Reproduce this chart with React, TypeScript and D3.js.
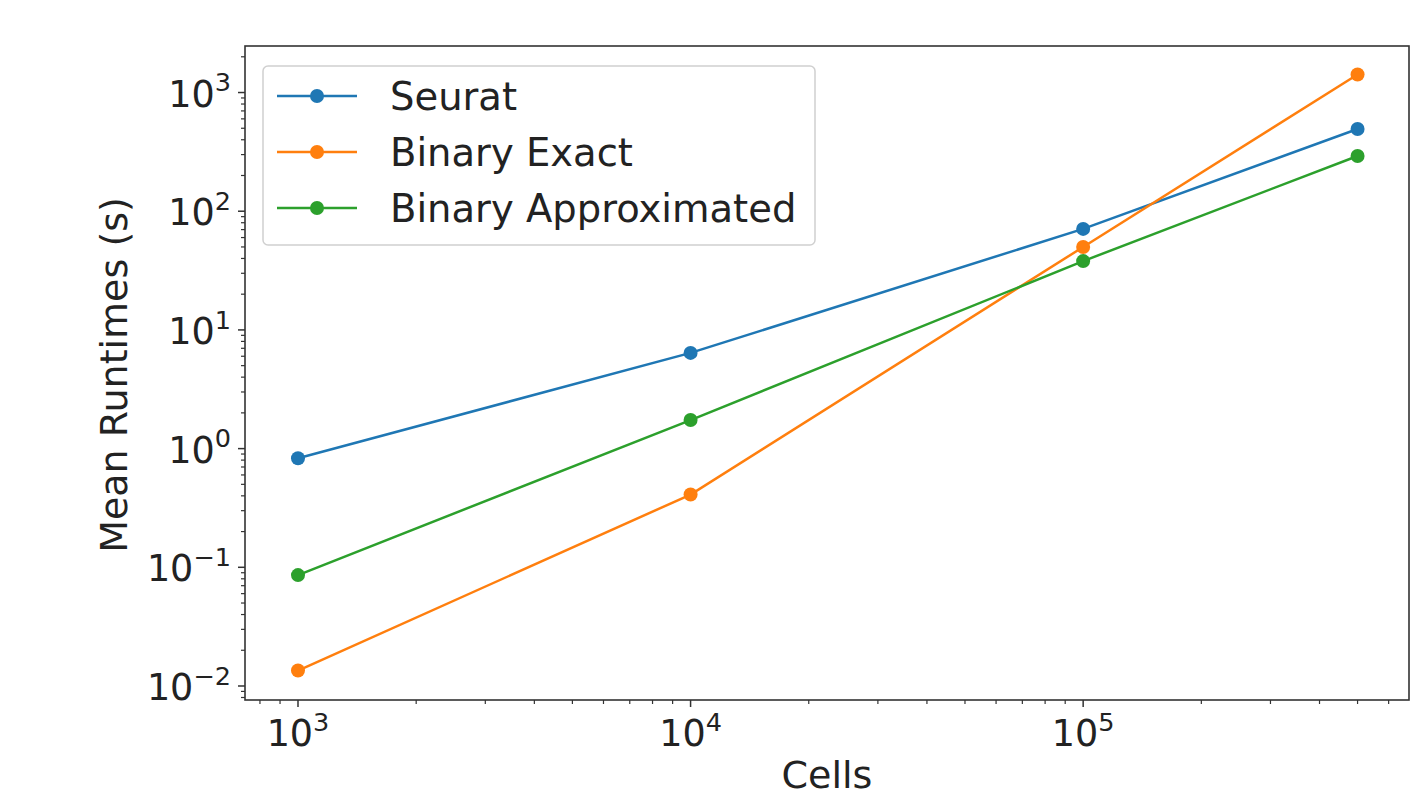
import React from "react";
import * as d3 from "d3";

const CELLS = [1000, 10000, 100000, 500000];
const SERIES_NAMES = ["Seurat", "Binary Exact", "Binary Approximated"];
const SEURAT = [0.83, 6.4, 71, 493];
const BINARY_EXACT = [0.0135, 0.41, 50, 1420];
const BINARY_APPROX = [0.086, 1.74, 38, 292];
const SERIES_COLORS = ["#1f77b4", "#ff7f0e", "#2ca02c"];
const X_TICKS = [1e3, 1e4, 1e5];
const X_TICK_EXP = ["3", "4", "5"];
const Y_TICKS = [1e-2, 1e-1, 1e0, 1e1, 1e2, 1e3];
const Y_TICK_EXP = ["\u22122", "\u22121", "0", "1", "2", "3"];

const W = 1410;
const H = 790;
const L = 245, R = 1409, T = 46, B = 700;
const FONT = "DejaVu Sans, sans-serif";
const FS = 36.5;
const FS_LEG = 38.5;
const FS_LAB = 38;

export default function App() {
  const x = d3.scaleLog().domain([Math.pow(10, 2.865), Math.pow(10, 5.83)]).range([L, R]);
  const y = d3.scaleLog().domain([Math.pow(10, -2.118), Math.pow(10, 3.392)]).range([B, T]);
  const series = [SEURAT, BINARY_EXACT, BINARY_APPROX];
  const line = d3
    .line<[number, number]>()
    .x((d) => x(d[0]))
    .y((d) => y(d[1]));

  const [x0, x1] = x.domain();
  const [y0, y1] = y.domain();
  const xMinor: number[] = [];
  for (let e = 2; e <= 6; e++) for (let m = 2; m <= 9; m++) {
    const v = m * Math.pow(10, e);
    if (v >= x0 && v <= x1) xMinor.push(v);
  }
  const yMinor: number[] = [];
  for (let e = -3; e <= 3; e++) for (let m = 2; m <= 9; m++) {
    const v = m * Math.pow(10, e);
    if (v >= y0 && v <= y1) yMinor.push(v);
  }

  const axisColor = "#333";
  const legX = 263, legY = 66, legW = 552, legH = 179;
  const rowY = [96, 152, 208];

  return (
    <svg width={W} height={H} style={{ position: "absolute", left: 0, top: 0, background: "#fff" }} fontFamily={FONT}>
      <rect x={0} y={0} width={W} height={H} fill="#fff" />
      {/* minor ticks */}
      {xMinor.map((v, i) => (
        <line key={"xm" + i} x1={x(v)} x2={x(v)} y1={B} y2={B + 4} stroke={axisColor} strokeWidth={1.2} />
      ))}
      {yMinor.map((v, i) => (
        <line key={"ym" + i} x1={L - 4} x2={L} y1={y(v)} y2={y(v)} stroke={axisColor} strokeWidth={1.2} />
      ))}
      {/* major ticks */}
      {X_TICKS.map((v, i) => (
        <g key={"xt" + i}>
          <line x1={x(v)} x2={x(v)} y1={B} y2={B + 7} stroke={axisColor} strokeWidth={1.5} />
          <text x={x(v)} y={746} textAnchor="middle" fontSize={FS} fill="#222">
            10<tspan fontSize={FS * 0.7} dy={-FS * 0.42}>{X_TICK_EXP[i]}</tspan>
          </text>
        </g>
      ))}
      {Y_TICKS.map((v, i) => (
        <g key={"yt" + i}>
          <line x1={L - 7} x2={L} y1={y(v)} y2={y(v)} stroke={axisColor} strokeWidth={1.5} />
          <text x={231} y={y(v) + 14} textAnchor="end" fontSize={FS} fill="#222">
            10<tspan fontSize={FS * 0.7} dy={-FS * 0.42}>{Y_TICK_EXP[i]}</tspan>
          </text>
        </g>
      ))}
      {/* series */}
      {series.map((s, si) => {
        const pts: [number, number][] = CELLS.map((c, i) => [c, s[i]]);
        return (
          <g key={"s" + si}>
            <path d={line(pts) || ""} fill="none" stroke={SERIES_COLORS[si]} strokeWidth={2.5} />
            {pts.map((p, i) => (
              <circle key={i} cx={x(p[0])} cy={y(p[1])} r={7} fill={SERIES_COLORS[si]} />
            ))}
          </g>
        );
      })}
      {/* spines */}
      <rect x={L} y={T} width={R - L} height={B - T} fill="none" stroke={axisColor} strokeWidth={1.6} />
      {/* legend */}
      <rect x={legX} y={legY} width={legW} height={legH} rx={5} fill="#fff" fillOpacity={0.8} stroke="#d0d0d0" strokeWidth={1.5} />
      {SERIES_NAMES.map((n, i) => (
        <g key={"lg" + i}>
          <line x1={277} x2={357} y1={rowY[i]} y2={rowY[i]} stroke={SERIES_COLORS[i]} strokeWidth={2.5} />
          <circle cx={317} cy={rowY[i]} r={7} fill={SERIES_COLORS[i]} />
          <text x={390} y={rowY[i] + 14} fontSize={FS_LEG} fill="#222">{n}</text>
        </g>
      ))}
      {/* axis labels */}
      <text x={827} y={788} textAnchor="middle" fontSize={FS_LAB} fill="#222">Cells</text>
      <text transform={`translate(127, 375) rotate(-90)`} textAnchor="middle" fontSize={FS_LAB} fill="#222">
        Mean Runtimes (s)
      </text>
    </svg>
  );
}
